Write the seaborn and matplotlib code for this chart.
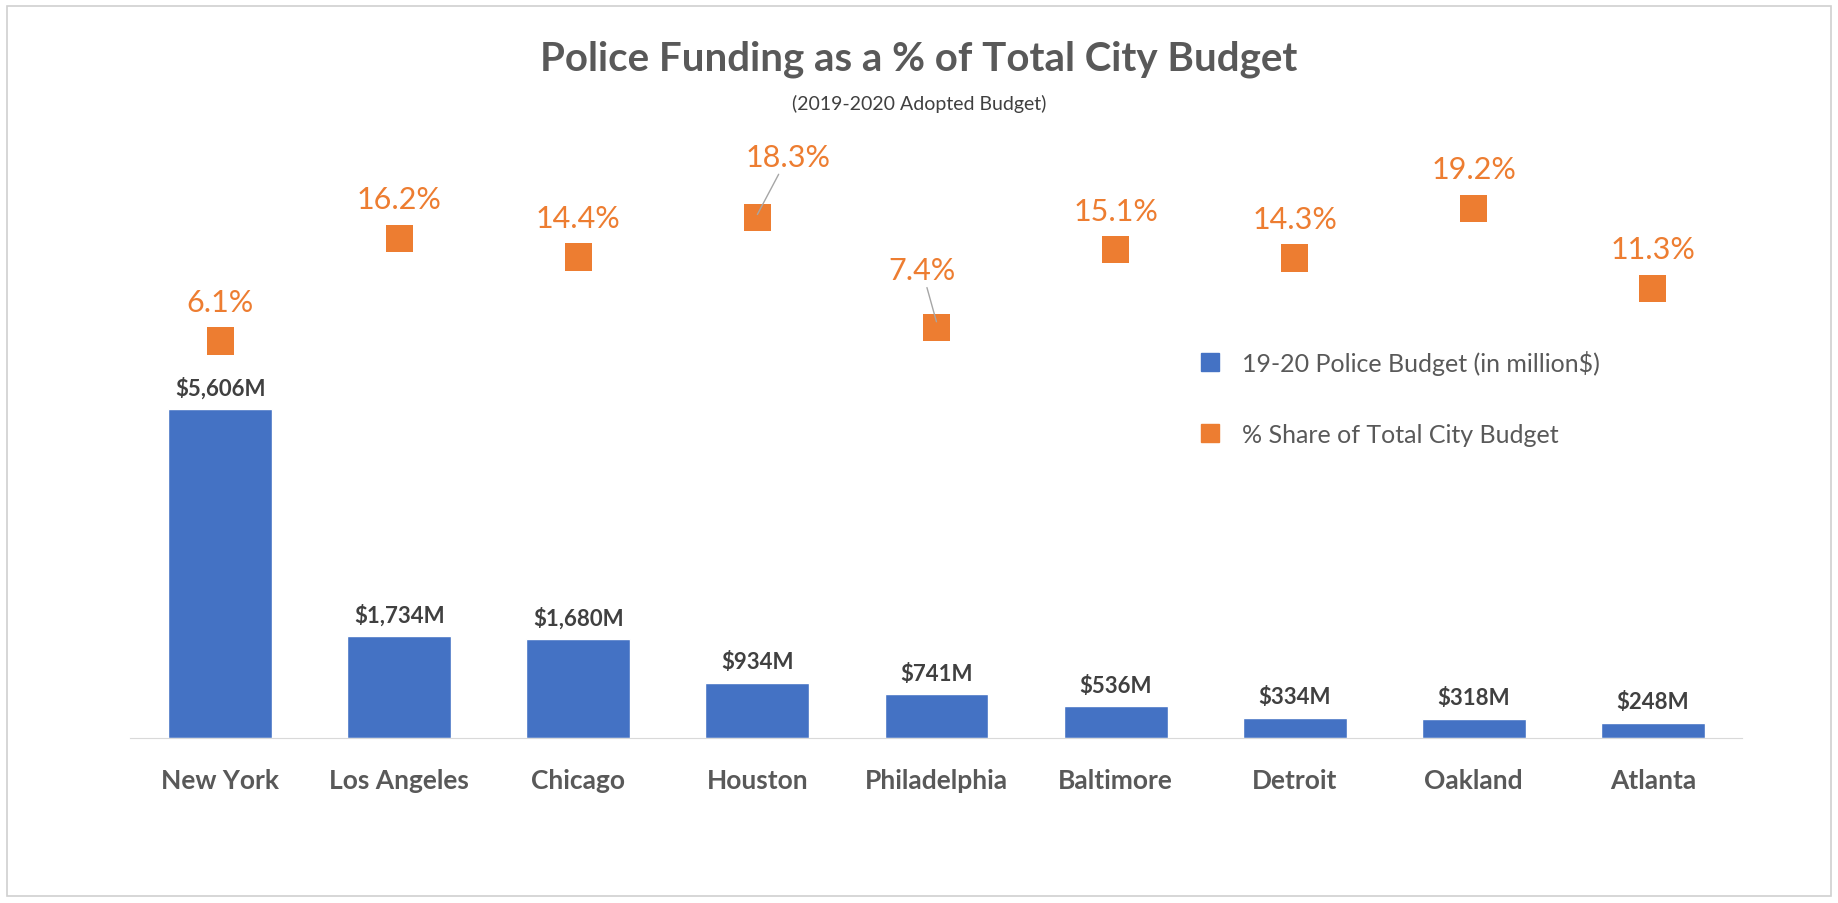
import matplotlib.pyplot as plt
import seaborn as sns
import pandas as pd
from matplotlib.patches import Rectangle
from matplotlib.lines import Line2D

cities = ["New York", "Los Angeles", "Chicago", "Houston", "Philadelphia",
          "Baltimore", "Detroit", "Oakland", "Atlanta"]
budget = [5606, 1734, 1680, 934, 741, 536, 334, 318, 248]
share = [6.1, 16.2, 14.4, 18.3, 7.4, 15.1, 14.3, 19.2, 11.3]

df = pd.DataFrame({"city": cities, "budget": budget, "share": share})

sns.set_style("white")
plt.rcParams['font.family'] = ['Lato', 'DejaVu Sans']

blue = "#4472C4"
orange = "#ED7D31"
gray = "#595959"

fig = plt.figure(figsize=(18.38, 9.04), dpi=100)
fig.patches.append(Rectangle((0.004, 0.008), 0.992, 0.984, transform=fig.transFigure,
                             fill=False, edgecolor="#D0D0D0", linewidth=1.2))
ax = fig.add_axes([0.071, 0.183, 0.877, 0.648])

sns.barplot(data=df, x="city", y="budget", color=blue, width=0.58, ax=ax, saturation=1)
ax.set_ylim(0, 9990)
ax.set_xlim(-0.5, len(cities) - 0.5)
for i, v in enumerate(budget):
    ax.text(i, v + 180, f"${v:,}M", ha="center", va="bottom", fontsize=16,
            fontweight="bold", color="#404040")
ax.set_yticks([])
ax.set_xlabel("")
ax.set_ylabel("")
ax.tick_params(axis="x", labelsize=19, colors=gray, length=0, pad=22)
for lbl in ax.get_xticklabels():
    lbl.set_fontweight("bold")
for s in ["top", "right", "left"]:
    ax.spines[s].set_visible(False)
ax.spines["bottom"].set_color("#D9D9D9")

ax2 = ax.twinx()
sns.scatterplot(data=df, x="city", y="share", marker="s", s=380, color=orange,
                edgecolor="none", ax=ax2, legend=False)
ax2.set_ylim(-33.1, 24.8)
ax2.set_yticks([])
ax2.set_ylabel("")
for s in ax2.spines.values():
    s.set_visible(False)
for i, v in enumerate(share):
    if cities[i] == "Houston":
        ax2.annotate(f"{v}%", xy=(i, v + 0.3), xytext=(i + 0.17, v + 4.6),
                     ha="center", va="bottom", fontsize=22, color=orange,
                     arrowprops=dict(arrowstyle="-", color="#A6A6A6", lw=1,
                                     shrinkA=0, shrinkB=0), annotation_clip=False)
    elif cities[i] == "Philadelphia":
        ax2.annotate(f"{v}%", xy=(i, v + 0.6), xytext=(i - 0.08, v + 4.3),
                     ha="center", va="bottom", fontsize=22, color=orange,
                     arrowprops=dict(arrowstyle="-", color="#A6A6A6", lw=1,
                                     shrinkA=0, shrinkB=0), annotation_clip=False)
    else:
        ax2.text(i, v + 2.5, f"{v}%", ha="center", va="bottom", fontsize=22,
                 color=orange)

handles = [Line2D([], [], marker="s", linestyle="none", markersize=13, color=blue),
           Line2D([], [], marker="s", linestyle="none", markersize=13, color=orange)]
ax2.legend(handles, ["19-20 Police Budget (in million$)", "% Share of Total City Budget"],
           loc="upper left", bbox_to_anchor=(0.64, 0.7), frameon=False,
           fontsize=18, labelcolor=gray, handletextpad=0.3, labelspacing=1.9)

fig.text(0.5, 0.935, "Police Funding as a % of Total City Budget", ha="center",
         va="center", fontsize=29, fontweight="bold", color=gray)
fig.text(0.5, 0.885, "(2019-2020 Adopted Budget)", ha="center", va="center",
         fontsize=14, color="#404040")

plt.savefig("out.png", dpi=100)
